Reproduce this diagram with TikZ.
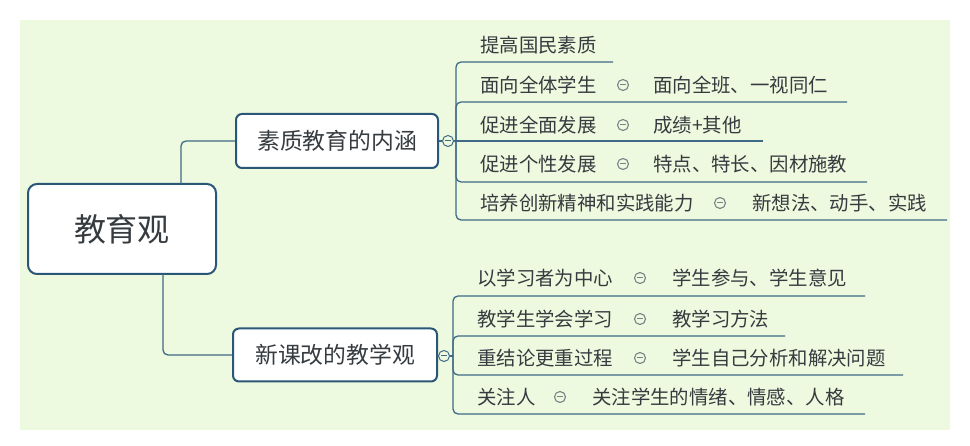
\documentclass[tikz,border=0pt]{standalone}
\usepackage{fontspec}
\setmainfont{Noto Sans CJK SC}
\newfontfamily\cjk{Noto Sans CJK SC}
\begin{document}
\begin{tikzpicture}[x=1pt,y=-1pt,
  txt/.style={text=textc,inner sep=0pt,anchor=west,font=\cjk\fontsize{19.4}{22}\selectfont},
  topicbox/.style={draw=boxc,line width=2pt,fill=white,rounded corners=6pt,text=textc,inner sep=0pt,font=\cjk\fontsize{22.8}{26}\selectfont},
  rootbox/.style={draw=boxc,line width=2pt,fill=white,rounded corners=9pt,text=textc,inner sep=0pt,font=\cjk\fontsize{32}{36}\selectfont,minimum width=188pt,minimum height=90pt},
  conn/.style={draw=linec,line width=1.3pt,rounded corners=5pt},
  marker/.style={circle,draw=linec,line width=1pt,fill=bgc,minimum size=11pt,inner sep=0pt,
    path picture={\draw[linec,line width=1pt] ([xshift=-2.8pt]path picture bounding box.center) -- ([xshift=2.8pt]path picture bounding box.center);}},
  mini/.style={circle,draw=minic,line width=1.1pt,minimum size=11pt,inner sep=0pt,
    path picture={\draw[minic,line width=1pt] ([xshift=-2.8pt]path picture bounding box.center) -- ([xshift=2.8pt]path picture bounding box.center);}}
]
\definecolor{bgc}{HTML}{EEFADF}
\definecolor{textc}{HTML}{363B40}
\definecolor{boxc}{HTML}{2A5677}
\definecolor{linec}{HTML}{3F6A86}
\definecolor{minic}{HTML}{7A8288}
\useasboundingbox (0,0) rectangle (970,446);
\fill[white] (0,0) rectangle (970,446);
\fill[bgc] (20,20) rectangle (950,430);

% root and main topics
\node[rootbox] (root) at (122,229) {教育观};
\node[topicbox,minimum width=202pt,minimum height=54pt] (t1) at (337,141) {素质教育的内涵};
\node[topicbox,minimum width=204pt,minimum height=53pt] (t2) at (335,355) {新课改的教学观};

\coordinate (r1) at (181,184);
\coordinate (r2) at (163,274);
\draw[conn] (r1) |- (t1.west);
\draw[conn] (r2) |- (t2.west);

% markers
\node[marker] (m1) at (448,141) {};
\node[marker] (m2) at (444,356) {};
\draw[conn] (t1.east) -- (m1.west);
\draw[conn] (t2.east) -- (m2.west);
\coordinate (b1) at (456,141);
\coordinate (b2) at (453,356);
\draw[conn] (m1.east) -- (b1);
\draw[conn] (m2.east) -- (b2);

% children of t1
\node[txt] (a1) at (480,45) {提高国民素质};
\node[txt] (a2) at (480,85) {面向全体学生};
\node[mini] (s2) at (623,85) {};
\node[txt] (g2) at (653,85) {面向全班、一视同仁};
\node[txt] (a3) at (480,125) {促进全面发展};
\node[mini] (s3) at (623,125) {};
\node[txt] (g3) at (653,125) {成绩+其他};
\node[txt] (a4) at (480,164) {促进个性发展};
\node[mini] (s4) at (623,164) {};
\node[txt] (g4) at (653,164) {特点、特长、因材施教};
\node[txt] (a5) at (480,203) {培养创新精神和实践能力};
\node[mini] (s5) at (720,203) {};
\node[txt] (g5) at (752,203) {新想法、动手、实践};

\coordinate (u1) at (613,62);
\coordinate (u2) at (847,102);
\coordinate (u3) at (763,141);
\coordinate (u4) at (867,182);
\coordinate (u5) at (947,220);
\draw[conn] (b1) |- (u1);
\draw[conn] (b1) |- (u2);
\draw[conn] (b1) -- (u3);
\draw[conn] (b1) |- (u4);
\draw[conn] (b1) |- (u5);

% children of t2
\node[txt] (c1) at (477,278) {以学习者为中心};
\node[mini] (z1) at (640,278) {};
\node[txt] (h1) at (672,278) {学生参与、学生意见};
\node[txt] (c2) at (477,319) {教学生学会学习};
\node[mini] (z2) at (640,319) {};
\node[txt] (h2) at (672,319) {教学习方法};
\node[txt] (c3) at (477,358) {重结论更重过程};
\node[mini] (z3) at (640,358) {};
\node[txt] (h3) at (672,358) {学生自己分析和解决问题};
\node[txt] (c4) at (477,397) {关注人};
\node[mini] (z4) at (560,397) {};
\node[txt] (h4) at (592,397) {关注学生的情绪、情感、人格};

\coordinate (v1) at (865,296);
\coordinate (v2) at (785,336);
\coordinate (v3) at (903,375);
\coordinate (v4) at (865,414);
\draw[conn] (b2) |- (v1);
\draw[conn] (b2) |- (v2);
\draw[conn] (b2) |- (v3);
\draw[conn] (b2) |- (v4);
\end{tikzpicture}
\end{document}
